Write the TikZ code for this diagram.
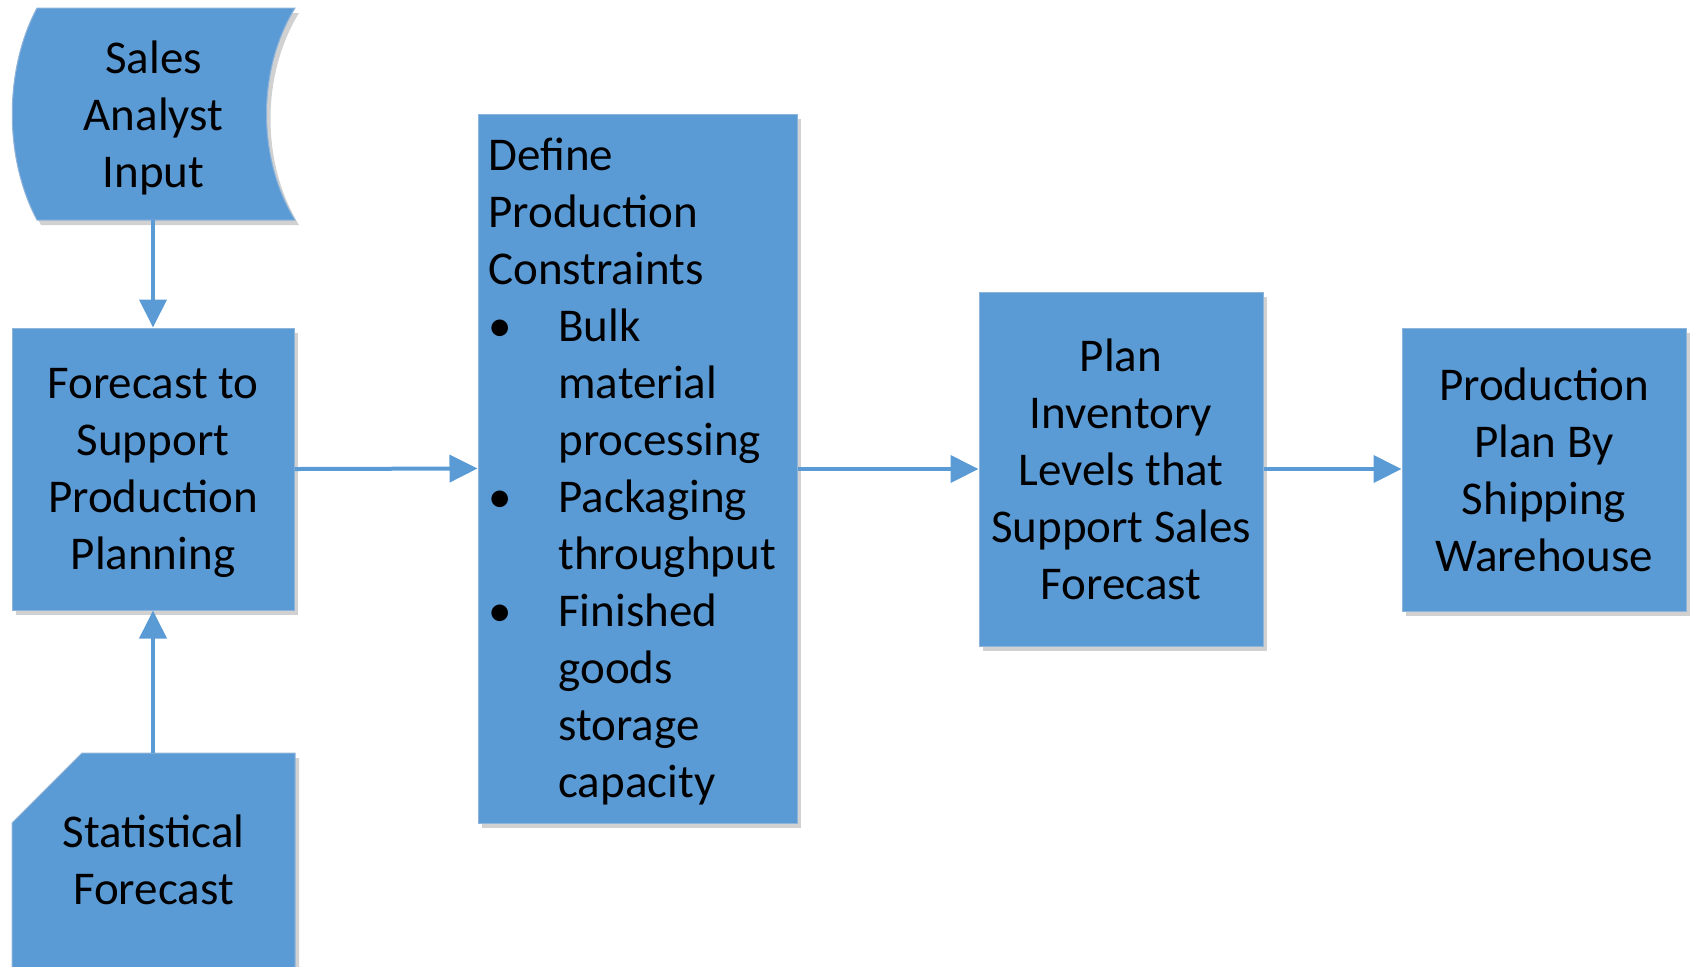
\documentclass[tikz,border=0pt]{standalone}
\usepackage{fontspec}
\setmainfont{Carlito}
\usetikzlibrary{arrows.meta,shadows}
\definecolor{boxblue}{HTML}{5B9BD5}
\definecolor{edgeblue}{HTML}{8FB3D9}
\begin{document}
\begin{tikzpicture}[x=0.5pt,y=-0.5pt,
  shade/.style={drop shadow={shadow xshift=2pt,shadow yshift=-2.5pt,opacity=0.18,fill=black}},
  boxst/.style={draw=edgeblue,line width=0.5pt,fill=boxblue,shade},
  txt/.style={font=\fontsize{23.5}{28.5}\selectfont,text=black,align=center,inner sep=0pt,text depth=0pt},
  rectbox/.style={boxst,txt,anchor=center},
  arr/.style={draw=boxblue,line width=2pt,-{Triangle[length=14pt,width=13.5pt]}}]
\clip (0,0) rectangle (1690,966);
% Sales Analyst Input (stored data shape)
\path[boxst] (37,8) -- (295,8) .. controls (257,70) and (257,158) .. (295,220)
  -- (37,220) .. controls (4,158) and (4,70) .. (37,8) -- cycle;
\node[txt,minimum width=141.5pt,minimum height=106pt] (sales) at (153.5,114) {Sales\\Analyst\\Input};
% Statistical Forecast (card shape)
\path[boxst] (82,753) -- (295,753) -- (295,971) -- (12,971) -- (12,823) -- cycle;
\node[txt,minimum width=141.5pt,minimum height=107pt] (stat) at (153.5,860) {Statistical\\Forecast};
% Forecast box
\node[rectbox,minimum width=141pt,minimum height=141pt] (fc) at (153,469)
  {Forecast to\\Support\\Production\\Planning};
% Define box
\node[rectbox,minimum width=159.5pt,minimum height=354.5pt] (def) at (637.5,468.5) {};
\node[txt,align=left,anchor=west] (deftxt) at (488,468)
  {Define\\Production\\Constraints\\
   \makebox[35pt][l]{\textbullet}Bulk\\
   \hspace*{35pt}material\\
   \hspace*{35pt}processing\\
   \makebox[35pt][l]{\textbullet}Packaging\\
   \hspace*{35pt}throughput\\
   \makebox[35pt][l]{\textbullet}Finished\\
   \hspace*{35pt}goods\\
   \hspace*{35pt}storage\\
   \hspace*{35pt}capacity};
% Plan Inventory box
\node[rectbox,minimum width=142pt,minimum height=177pt] (plan) at (1121,469)
  {Plan\\Inventory\\Levels that\\Support Sales\\Forecast};
% Production Plan box
\node[rectbox,minimum width=142pt,minimum height=141.5pt] (prod) at (1544,469.5)
  {Production\\Plan By\\Shipping\\Warehouse};
% connectors
\draw[arr] (fc.north |- sales.south) -- (fc.north);
\draw[arr] (fc.south |- stat.north) -- (fc.south);
\draw[arr] (fc.east) -- (def.west);
\draw[arr] (def.east |- plan.west) -- (plan.west);
\draw[arr] (plan.east) -- (prod.west |- plan.east);
\end{tikzpicture}
\end{document}
